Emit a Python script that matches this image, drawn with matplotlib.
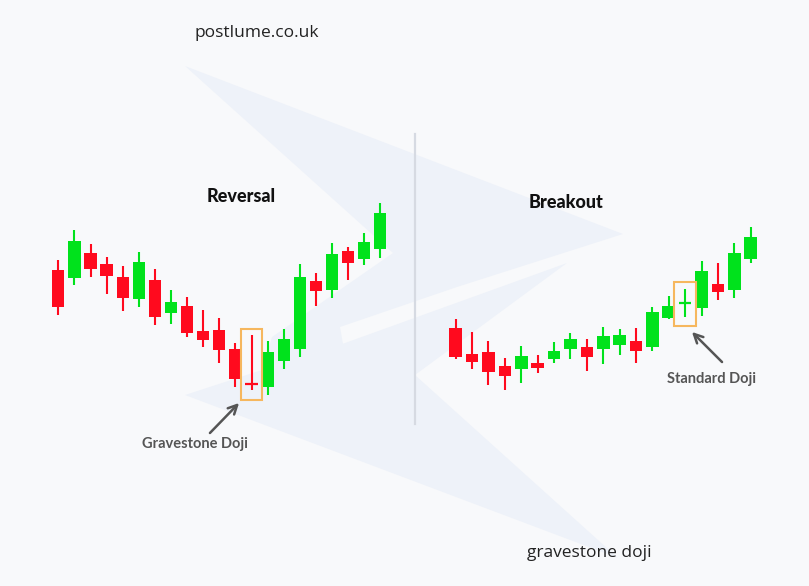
import matplotlib
matplotlib.use("Agg")
import matplotlib.pyplot as plt
from matplotlib.patches import Rectangle, Polygon

# ---- data (price units) ----
# left panel: reversal with a gravestone doji at index 12
rev_open  = [316, 308, 333, 322, 309, 287, 306, 273, 280, 255, 256, 237, 203, 199, 225, 237, 305, 296, 335, 327, 337]
rev_high  = [326, 356, 342, 329, 320, 334, 317, 296, 289, 276, 268, 243, 251, 245, 257, 322, 313, 343, 339, 353, 383]
rev_low   = [271, 301, 309, 292, 275, 279, 261, 262, 249, 239, 223, 199, 196, 191, 217, 229, 280, 288, 306, 321, 328]
rev_close = [279, 345, 317, 310, 288, 324, 269, 284, 253, 246, 236, 207, 202, 234, 247, 309, 295, 332, 323, 344, 373]

# right panel: breakout with a standard doji at index 14
brk_open  = [258, 232, 234, 220, 217, 223, 227, 237, 239, 237, 241, 245, 239, 268, 283, 278, 302, 296, 327]
brk_high  = [267, 254, 245, 228, 240, 231, 244, 253, 247, 259, 257, 258, 279, 290, 297, 325, 323, 343, 359]
brk_low   = [227, 217, 201, 196, 203, 213, 223, 227, 215, 222, 231, 223, 235, 267, 269, 270, 286, 288, 323]
brk_close = [229, 224, 214, 210, 230, 218, 235, 247, 229, 250, 251, 235, 274, 280, 284, 315, 294, 333, 349]

panel_titles = ["Reversal", "Breakout"]
doji_labels = ["Gravestone Doji", "Standard Doji"]

W, H = 809, 586
BG = "#f8f9fb"
SHAPE = "#eef2f9"
RED = "#ff0a1e"
GREEN = "#00e21c"
BOX = "#f6b75e"
GREY = "#555555"

fig = plt.figure(figsize=(W / 100, H / 100), dpi=100)
fig.patch.set_facecolor(BG)

# background layer in pixel coordinates (y down)
bg = fig.add_axes([0, 0, 1, 1])
bg.set_xlim(0, W)
bg.set_ylim(H, 0)
bg.axis("off")

# faint paper-plane watermark shapes
upper_wing = [(185, 66), (623, 234), (457, 287), (340, 327), (343, 344),
              (262, 370), (272, 337), (393, 253)]
lower_wing = [(185, 395), (345, 343), (567, 263), (415, 375), (618, 558)]
for pts in (upper_wing, lower_wing):
    bg.add_patch(Polygon(pts, closed=True, facecolor=SHAPE, edgecolor="none", zorder=0))

# divider
bg.plot([415, 415], [134, 424], color="#d6dae2", lw=1.6, zorder=1)

# watermark texts
bg.text(257, 33, "postlume.co.uk", ha="center", va="center", fontsize=12.5,
        family="Open Sans", color="#222222")
bg.text(589, 553, "gravestone doji", ha="center", va="center", fontsize=12.5,
        family="Open Sans", color="#222222")

# panel titles
bg.text(241, 196, panel_titles[0], ha="center", va="center", fontsize=13,
        family="Lato", weight="black", color="#111111")
bg.text(566, 202, panel_titles[1], ha="center", va="center", fontsize=13,
        family="Lato", weight="black", color="#111111")

# labels + arrows
bg.text(195, 444, doji_labels[0], ha="center", va="center", fontsize=10.5,
        family="Lato", weight="bold", color=GREY)
bg.annotate("", xy=(241, 401), xytext=(208, 435),
            arrowprops=dict(arrowstyle="->", color=GREY, lw=1.8, mutation_scale=16))
bg.text(712, 379, doji_labels[1], ha="center", va="center", fontsize=10.5,
        family="Lato", weight="bold", color=GREY)
bg.annotate("", xy=(690, 330), xytext=(724, 364),
            arrowprops=dict(arrowstyle="->", color=GREY, lw=1.8, mutation_scale=16))


def candle_axes(x0, x1, n, ylo, yhi):
    # x0/x1 pixels of the outer edges, price maps straight to pixels from the bottom
    ax = fig.add_axes([x0 / W, ylo / H, (x1 - x0) / W, (yhi - ylo) / H])
    ax.set_xlim(-0.5, n - 0.5)
    ax.set_ylim(ylo, yhi)
    ax.axis("off")
    ax.patch.set_alpha(0)
    return ax


def draw_candles(ax, o, h, l, c, width):
    for i in range(len(o)):
        col = GREEN if c[i] >= o[i] else RED
        ax.vlines(i, l[i], h[i], color=col, lw=1.5)
        body = abs(c[i] - o[i])
        if body < 2:
            # doji: just a short cross bar
            ax.hlines((o[i] + c[i]) / 2, i - width / 2, i + width / 2, color=col, lw=1.6)
        else:
            ax.bar(i, body, width, bottom=min(o[i], c[i]), color=col, linewidth=0)


ax1 = candle_axes(50.25, 388.35, len(rev_open), 150, 420)
draw_candles(ax1, rev_open, rev_high, rev_low, rev_close, 0.76)
ax1.add_patch(Rectangle((11.33, 186), 1.34, 71.5, fill=False, edgecolor=BOX, lw=1.5))

ax2 = candle_axes(447.5, 758.9, len(brk_open), 150, 420)
draw_candles(ax2, brk_open, brk_high, brk_low, brk_close, 0.77)
ax2.add_patch(Rectangle((13.32, 260.3), 1.36, 43.4, fill=False, edgecolor=BOX, lw=1.5))

fig.savefig("out.png", dpi=100, facecolor=BG)
